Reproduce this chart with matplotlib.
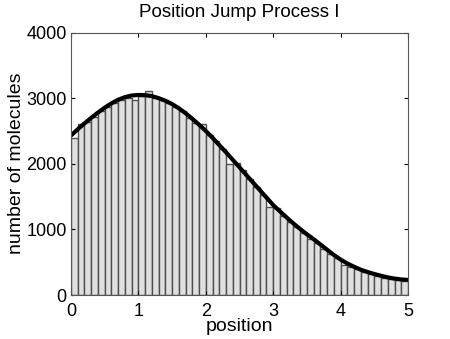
import matplotlib
matplotlib.use("Agg")
import matplotlib.pyplot as plt

plt.rcParams['font.family'] = ['Liberation Sans', 'DejaVu Sans']

# histogram: bin left edges (width 0.1) and counts
bin_width = 0.1
bin_left = [round(0.1 * i, 1) for i in range(50)]
counts = [2400, 2610, 2640, 2720, 2800, 2870, 2930, 2970, 3000, 2975,
          3040, 3110, 3000, 2970, 2930, 2860, 2800, 2700, 2620, 2600,
          2440, 2340, 2230, 2000, 2010, 1910, 1770, 1650, 1530, 1345,
          1320, 1210, 1110, 1040, 940, 860, 800, 700, 630, 560,
          450, 430, 390, 350, 320, 290, 265, 245, 230, 220]

# fitted curve, read every 0.1
curve_x = [round(0.1 * i, 1) for i in range(51)]
curve_y = [2430, 2525, 2615, 2700, 2780, 2855, 2920, 2975, 3015, 3040,
           3048, 3045, 3030, 3000, 2960, 2910, 2845, 2770, 2685, 2595,
           2500, 2395, 2285, 2175, 2060, 1945, 1830, 1715, 1600, 1485,
           1370, 1275, 1180, 1090, 1005, 925, 850, 770, 690, 610,
           540, 480, 430, 385, 350, 320, 293, 268, 250, 237, 230]

fig = plt.figure(figsize=(4.5, 3.39), dpi=100)
ax = fig.add_axes([71/450, 44/339, 337/450, 262.5/339])

ax.bar(bin_left, counts, width=bin_width, align='edge',
       color='#e0e0e0', edgecolor='#4f4f4f', linewidth=1.0)
ax.plot(curve_x, curve_y, color='black', linewidth=3, solid_capstyle='butt')

ax.set_xlim(0, 5)
ax.set_ylim(0, 4000)
ax.set_xticks([0, 1, 2, 3, 4, 5])
ax.set_yticks([0, 1000, 2000, 3000, 4000])
ax.tick_params(direction='in', top=True, right=True, labelsize=13, length=3)
ax.tick_params(axis='x', pad=6)
ax.tick_params(axis='y', pad=3)
for s in ax.spines.values():
    s.set_color('#555555')

ax.set_title('Position Jump Process I', fontsize=13.5, pad=11)
ax.set_xlabel('position', fontsize=14, labelpad=-2)
ax.set_ylabel('number of molecules', fontsize=14, labelpad=1)

fig.savefig('out.png', dpi=100)
